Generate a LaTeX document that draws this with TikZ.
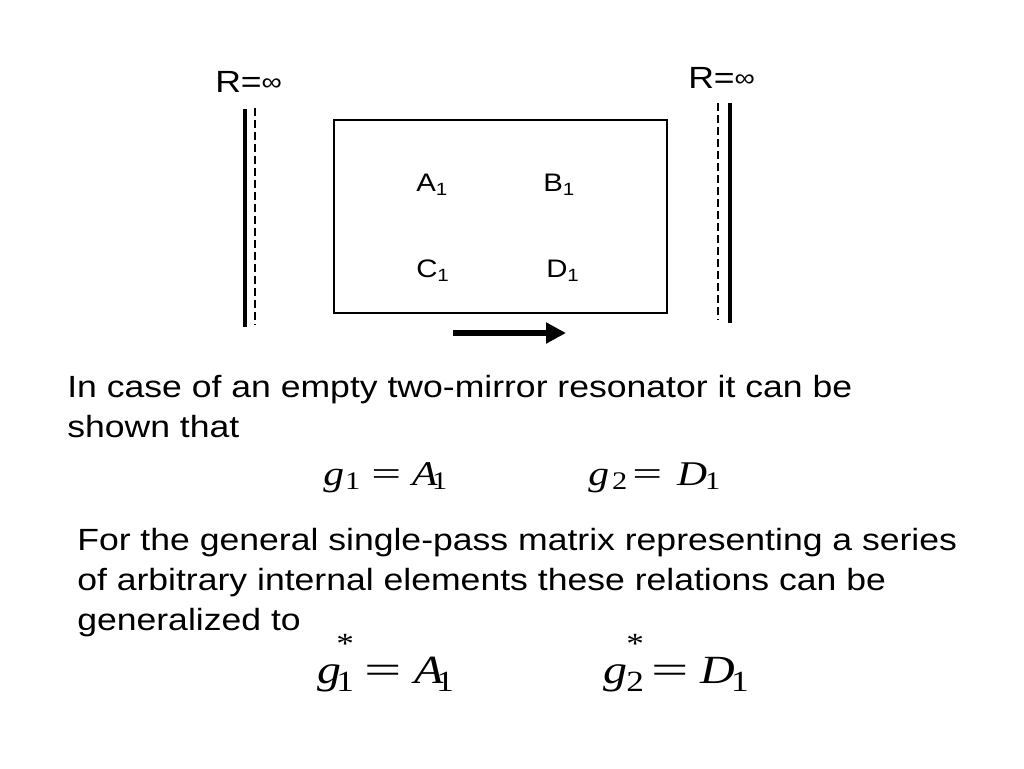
\documentclass[tikz,border=0pt]{standalone}
\usepackage{fontspec}
\setmainfont{Liberation Sans}[FakeStretch=1.16]
\newfontfamily\eqfont{Liberation Serif}[FakeStretch=1.2]
\usetikzlibrary{arrows.meta}
% lowered index: size, drop, text
\newcommand{\lowidx}[3]{\raisebox{-#2}{\upshape\fontsize{#1}{#1}\selectfont #3}}
\newcommand{\staridx}{\rlap{\raisebox{22pt}{\upshape\fontsize{22}{22}\selectfont *}}}
\newcommand{\infsym}{\raisebox{1pt}{\scalebox{0.8}{∞}}}
\begin{document}
\begin{tikzpicture}[x=0.75pt,y=-0.75pt,
  mirror/.style={line width=3pt},
  mirrordash/.style={line width=0.8pt,dash pattern=on 6pt off 3pt},
  lbl/.style={inner sep=0pt,anchor=base west,font=\fontsize{23}{30}\selectfont},
  elem/.style={inner sep=0pt,anchor=base west,font=\fontsize{19}{19}\selectfont},
  txt/.style={inner sep=0pt,anchor=base west,align=left,font=\fontsize{23}{30}\selectfont},
  eq/.style={inner sep=0pt,anchor=base west,font=\eqfont\fontsize{26}{26}\selectfont},
  eqbig/.style={eq,font=\eqfont\fontsize{30}{30}\selectfont}]
\useasboundingbox (0,0) rectangle (1024,768);

%left mirror
\draw[mirror] (245,109) -- (245,327);
\draw[mirrordash] (255,108) -- (255,325);
\node[lbl] (RL) at (215,92) {R=\infsym};

%right mirror
\draw[mirror] (730,103) -- (730,323);
\draw[mirrordash] (718,103) -- (718,320);
\node[lbl] (RR) at (688,88) {R=\infsym};

%single-pass matrix
\draw[line width=1.5pt] (334,120) rectangle (667,313);
\node[elem] (A) at (416,191) {A\textsubscript{1}};
\node[elem] (B) at (543,191) {B\textsubscript{1}};
\node[elem] (C) at (416,277) {C\textsubscript{1}};
\node[elem] (D) at (546,277) {D\textsubscript{1}};

\coordinate (p1) at (453,333);
\coordinate (p2) at (566,333);
\draw[line width=3.8pt,-{Triangle[length=15pt,width=15pt]}] (p1) -- (p2);

\node[txt] (T1) at (67,437) {In case of an empty two-mirror resonator it can be\\shown that};
\node[eq] (E1) at (323,485) {{\itshape g}\kern0.75pt\lowidx{19}{3pt}{1}\hspace{8.25pt}\scalebox{1.27}[1]{=}\hspace{8.25pt}{\itshape A}\kern-4pt\lowidx{19}{3pt}{1}};
\node[eq] (E2) at (588,485) {{\itshape g}\kern2.25pt\lowidx{19}{3pt}{2}\hspace{3.75pt}\scalebox{1.27}[1]{=}\hspace{11.25pt}{\itshape D}\kern-1.5pt\lowidx{19}{3pt}{1}};

\node[txt] (T2) at (77,630) {For the general single-pass matrix representing a series\\of arbitrary internal elements these relations can be\\generalized to};
\node[eqbig] (E3) at (317,683) {{\itshape g}\kern-3.75pt\staridx\lowidx{22}{6pt}{1}\hspace{7.8pt}\scalebox{1.38}[1]{=}\hspace{9.5pt}{\itshape A}\kern-5.5pt\lowidx{22}{6pt}{1}};
\node[eqbig] (E4) at (603,683) {{\itshape g}\kern-0.75pt\staridx\lowidx{22}{6pt}{2}\hspace{5.5pt}\scalebox{1.38}[1]{=}\hspace{8.7pt}{\itshape D}\kern-2.8pt\lowidx{22}{6pt}{1}};
\end{tikzpicture}
\end{document}
